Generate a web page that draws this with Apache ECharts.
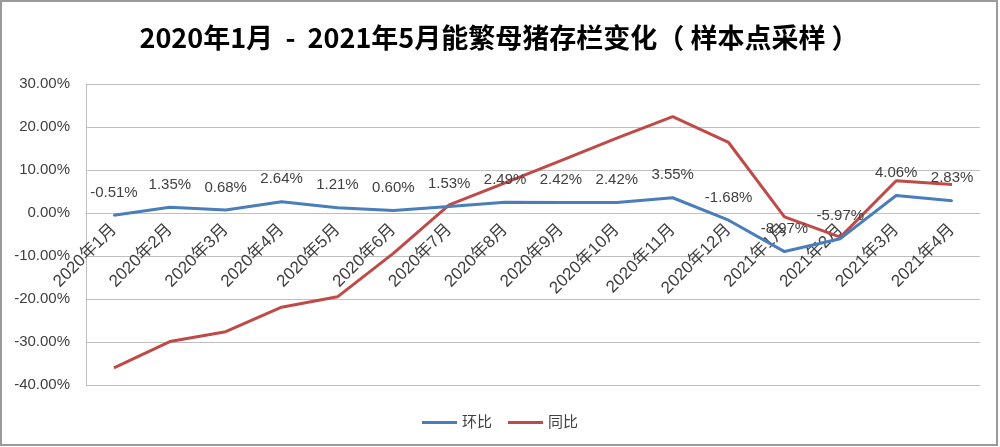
<!DOCTYPE html>
<html>
<head>
<meta charset="utf-8">
<script src="https://cdn.jsdelivr.net/npm/echarts@6/dist/echarts.min.js"></script>
<style>
html,body{margin:0;padding:0;background:#fff;}
#chart{width:1000px;height:447px;}
</style>
</head>
<body>
<div id="chart"></div>
<script>
const categories = ['2020年1月','2020年2月','2020年3月','2020年4月','2020年5月','2020年6月','2020年7月','2020年8月','2020年9月','2020年10月','2020年11月','2020年12月','2021年1月','2021年2月','2021年3月','2021年4月'];
const momValues = [-0.51, 1.35, 0.68, 2.64, 1.21, 0.60, 1.53, 2.49, 2.42, 2.42, 3.55, -1.68, -8.97, -5.97, 4.06, 2.83];
const yoyValues = [-36.0, -29.9, -27.6, -21.9, -19.5, -9.4, 1.9, 7.0, 12.2, 17.4, 22.4, 16.4, -0.9, -5.6, 7.5, 6.6];
const seriesNames = ['环比', '同比'];
const titleText = '2020年1月  -  2021年5月能繁母猪存栏变化（ 样本点采样 ）';

const yMin = -40, yMax = 30;
const gridTop = 84, gridBottom = 62, chartH = 447;
const plotH = chartH - gridTop - gridBottom;
const zeroOffset = -plotH * (0 - yMin) / (yMax - yMin);

const latin = '"Liberation Sans", "Noto Sans CJK SC", sans-serif';
const chart = echarts.init(document.getElementById('chart'), null, {renderer: 'canvas'});
chart.setOption({
  backgroundColor: '#ffffff',
  animation: false,
  title: {
    text: titleText,
    left: 494,
    textAlign: 'center',
    top: 19,
    textStyle: {fontFamily: '"Noto Sans CJK SC", sans-serif', fontSize: 27, fontWeight: 'bold', color: '#000'}
  },
  graphic: [{
    type: 'rect', silent: true, z: 100,
    shape: {x: 1, y: 1, width: 996, height: 444},
    style: {fill: 'none', stroke: '#9a9a9a', lineWidth: 2}
  }],
  legend: {
    data: seriesNames,
    top: 410,
    left: 'center',
    icon: 'rect',
    itemWidth: 35,
    itemHeight: 3,
    itemGap: 16,
    textStyle: {fontFamily: latin, fontSize: 15, color: '#404040'}
  },
  grid: {left: 86, right: 20, top: gridTop, bottom: gridBottom, containLabel: false, outerBoundsMode: 'none'},
  xAxis: {
    type: 'category',
    data: categories,
    boundaryGap: true,
    offset: zeroOffset,
    axisLine: {show: true, onZero: false, lineStyle: {color: '#bfbfbf', width: 1}},
    axisTick: {show: false},
    axisLabel: {rotate: 45, margin: 14, interval: 0, fontFamily: latin, fontSize: 17, color: '#404040'},
    splitLine: {show: false}
  },
  yAxis: {
    type: 'value',
    min: yMin, max: yMax, interval: 10,
    axisLine: {show: true, lineStyle: {color: '#bfbfbf', width: 1}},
    axisTick: {show: false},
    axisLabel: {margin: 16, fontFamily: latin, fontSize: 15, color: '#404040', formatter: v => v.toFixed(2) + '%'},
    splitLine: {show: true, lineStyle: {color: '#bfbfbf', width: 1}}
  },
  series: [
    {
      name: seriesNames[0], type: 'line', data: momValues,
      color: '#4a7ebb',
      symbol: 'circle', symbolSize: 2, showSymbol: true,
      lineStyle: {width: 3, color: '#4a7ebb'},
      itemStyle: {color: '#4a7ebb'},
      z: 3,
      label: {show: true, position: 'top', distance: 14, fontFamily: latin, fontSize: 15, color: '#404040',
        formatter: p => p.value.toFixed(2) + '%'}
    },
    {
      name: seriesNames[1], type: 'line', data: yoyValues,
      color: '#be4b48',
      symbol: 'none',
      lineStyle: {width: 3, color: '#be4b48'},
      itemStyle: {color: '#be4b48'},
      z: 2
    }
  ]
});
</script>
</body>
</html>
